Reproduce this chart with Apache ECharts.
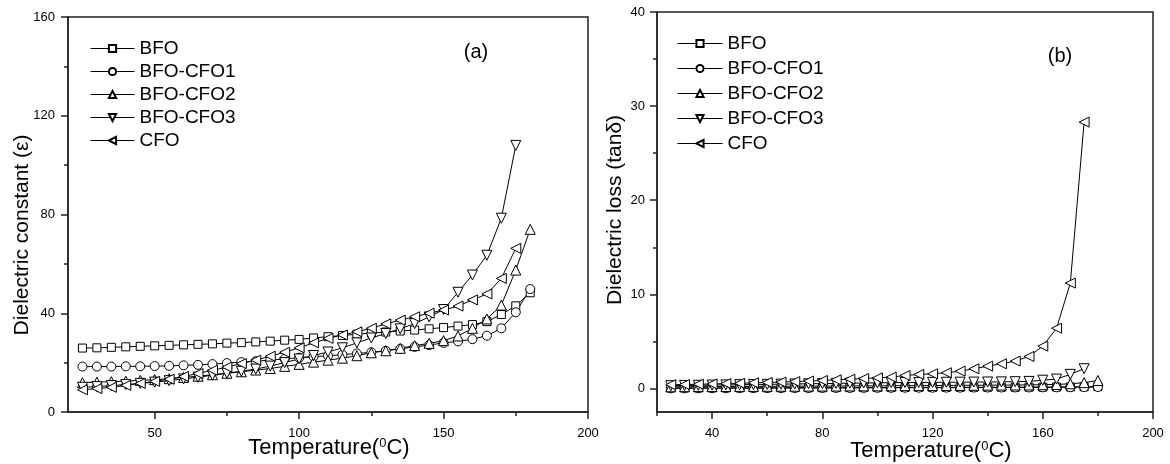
<!DOCTYPE html>
<html>
<head>
<meta charset="utf-8">
<script src="https://cdn.jsdelivr.net/npm/echarts@6/dist/echarts.min.js"></script>
<style>
  html, body { margin: 0; padding: 0; background: #fff; }
  #chart { width: 1170px; height: 464px; }
</style>
</head>
<body>
<div id="chart"></div>
<script>
// temperatures (°C), one point every 5 degrees
const temps = [25, 30, 35, 40, 45, 50, 55, 60, 65, 70, 75, 80, 85, 90, 95, 100,
  105, 110, 115, 120, 125, 130, 135, 140, 145, 150, 155, 160, 165, 170, 175, 180];

const seriesNames = ['BFO', 'BFO-CFO1', 'BFO-CFO2', 'BFO-CFO3', 'CFO'];

// (a) dielectric constant
const epsBFO = [25.9, 26.0, 26.2, 26.4, 26.6, 26.8, 27.0, 27.2, 27.4, 27.6, 27.9, 28.1, 28.4, 28.7, 29.1, 29.4,
  30.0, 30.5, 31.0, 31.5, 32.0, 32.4, 32.8, 33.2, 33.7, 34.2, 34.8, 35.4, 36.6, 39.5, 43.0, 48.3];
const epsCFO1 = [18.4, 18.4, 18.4, 18.5, 18.5, 18.6, 18.7, 18.9, 19.1, 19.4, 19.8, 20.2, 20.6, 21.0, 21.5, 22.0,
  22.4, 22.8, 23.2, 23.7, 24.2, 24.8, 25.6, 26.4, 27.1, 28.0, 28.6, 29.5, 30.9, 33.9, 40.4, 49.8];
const epsCFO2 = [11.9, 12.1, 12.3, 12.5, 12.8, 13.1, 13.5, 14.0, 14.5, 15.1, 15.7, 16.3, 17.0, 17.6, 18.5, 19.3,
  20.2, 21.0, 21.8, 22.8, 24.0, 24.8, 25.8, 26.9, 27.8, 28.9, 30.8, 33.9, 37.7, 43.3, 57.5, 74.0];
const epsCFO3 = [10.0, 10.3, 10.7, 11.1, 11.6, 12.1, 12.7, 13.4, 14.1, 14.9, 15.7, 16.5, 17.4, 18.6, 20.0, 21.5,
  22.9, 24.3, 26.0, 28.0, 30.0, 31.8, 33.7, 35.8, 38.5, 41.5, 48.5, 55.5, 63.5, 78.5, 108.0];
const epsCFO = [9.0, 9.5, 10.0, 10.8, 11.6, 12.4, 13.3, 14.4, 15.6, 16.9, 18.2, 19.6, 21.0, 22.6, 24.2, 26.0,
  28.0, 29.8, 31.2, 32.5, 33.9, 35.7, 37.2, 38.6, 40.0, 41.3, 42.9, 45.4, 47.8, 54.1, 66.3];

// (b) dielectric loss
const lossBFO = [0.05, 0.05, 0.05, 0.06, 0.06, 0.06, 0.07, 0.07, 0.07, 0.08, 0.08, 0.08, 0.09, 0.09, 0.09, 0.10,
  0.10, 0.10, 0.11, 0.11, 0.11, 0.12, 0.12, 0.12, 0.13, 0.13, 0.14, 0.14, 0.15, 0.16, 0.18, 0.20];
const lossCFO1 = [0.02, 0.02, 0.03, 0.03, 0.03, 0.04, 0.04, 0.04, 0.05, 0.05, 0.05, 0.06, 0.06, 0.06, 0.07, 0.07,
  0.07, 0.08, 0.08, 0.08, 0.09, 0.09, 0.10, 0.10, 0.10, 0.11, 0.11, 0.12, 0.12, 0.13, 0.14, 0.15];
const lossCFO2 = [0.18, 0.19, 0.20, 0.20, 0.21, 0.22, 0.22, 0.23, 0.24, 0.24, 0.25, 0.26, 0.26, 0.27, 0.28, 0.28,
  0.29, 0.30, 0.30, 0.31, 0.32, 0.33, 0.34, 0.35, 0.36, 0.37, 0.38, 0.40, 0.43, 0.50, 0.62, 0.85];
const lossCFO3 = [0.30, 0.32, 0.34, 0.36, 0.38, 0.40, 0.42, 0.44, 0.46, 0.48, 0.50, 0.52, 0.54, 0.56, 0.58, 0.60,
  0.62, 0.63, 0.64, 0.65, 0.66, 0.67, 0.68, 0.69, 0.70, 0.72, 0.75, 0.88, 1.00, 1.50, 2.10];
const lossCFO = [0.40, 0.42, 0.45, 0.48, 0.52, 0.55, 0.60, 0.64, 0.68, 0.73, 0.79, 0.85, 0.92, 0.99, 1.06, 1.13,
  1.21, 1.38, 1.49, 1.56, 1.67, 1.84, 2.09, 2.37, 2.62, 2.91, 3.40, 4.50, 6.40, 11.2, 28.3];

// axis tick / label positions
const xLabelsA = [50, 100, 150, 200];
const xMinorA = [75, 125, 175];
const yLabelsA = [0, 40, 80, 120, 160];
const yMinorA = [20, 60, 100, 140];
const xLabelsB = [40, 80, 120, 160, 200];
const xMinorB = [20, 60, 100, 140, 180];
const yLabelsB = [0, 10, 20, 30, 40];
const yMinorB = [5, 15, 25, 35];

const FONT = 'Arial, "Liberation Sans", sans-serif';
const AXIS_COLOR = '#222';

const symbols = [
  { symbol: 'rect', size: 8 },
  { symbol: 'circle', size: 9 },
  { symbol: 'triangle', size: 10 },
  { symbol: 'path://M0,0 L10,0 L5,9 Z', size: 10 },   // down triangle
  { symbol: 'path://M0,5 L9,0 L9,10 Z', size: 10 }    // left triangle
];

function pairs(vals) {
  return vals.map((v, i) => [temps[i], v]);
}

function makeSeries(idx, vals, axisIdx) {
  return {
    name: seriesNames[idx],
    type: 'line',
    xAxisIndex: axisIdx,
    yAxisIndex: axisIdx,
    data: pairs(vals),
    symbol: symbols[idx].symbol,
    symbolSize: symbols[idx].size,
    showAllSymbol: true,
    lineStyle: { color: '#000', width: 1 },
    itemStyle: { color: '#fff', borderColor: '#000', borderWidth: 1 },
    emphasis: { disabled: true },
    animation: false,
    z: 3
  };
}

// main axis: line, labels and long ticks
function mainAxis(grid, pos, min, max, labels, margin) {
  return {
    type: 'value',
    gridIndex: grid,
    position: pos,
    min: min,
    max: max,
    axisLine: { show: true, onZero: false, lineStyle: { color: AXIS_COLOR, width: 1.5 } },
    axisTick: { show: true, length: 7, customValues: labels, lineStyle: { color: AXIS_COLOR, width: 1.5 } },
    axisLabel: { customValues: labels, fontSize: 13, color: '#000', fontFamily: FONT, margin: margin },
    splitLine: { show: false }
  };
}

// overlay axis that only draws the short minor ticks
function minorAxis(grid, pos, min, max, ticks) {
  return {
    type: 'value',
    gridIndex: grid,
    position: pos,
    min: min,
    max: max,
    axisLine: { show: false, onZero: false },
    axisTick: { show: true, length: 4, customValues: ticks, lineStyle: { color: AXIS_COLOR, width: 1.5 } },
    axisLabel: { show: false },
    splitLine: { show: false }
  };
}

function legendFor(left, top, gap, width) {
  return {
    orient: 'vertical',
    left: left,
    top: top,
    padding: 0,
    itemWidth: width,
    itemHeight: 9,
    itemGap: gap,
    data: seriesNames,
    selectedMode: false,
    lineStyle: { width: 1, color: '#000' },
    textStyle: { fontSize: 19, color: '#000', fontFamily: FONT }
  };
}

// axis titles and panel labels as free text
function label(text, x, y, size, rotate) {
  return {
    type: 'text',
    x: x,
    y: y,
    rotation: rotate ? Math.PI / 2 : 0,
    style: {
      text: text,
      fill: '#000',
      font: size + 'px ' + FONT,
      align: 'center',
      verticalAlign: 'middle',
      textAlign: 'center',
      textVerticalAlign: 'middle',
      rich: { sup: { font: '13px ' + FONT, fill: '#000', verticalAlign: 'top', padding: [0, 0, 8, 0] } }
    }
  };
}

const chart = echarts.init(document.getElementById('chart'), null, { renderer: 'canvas' });

const option = {
  backgroundColor: '#fff',
  animation: false,
  textStyle: { fontFamily: FONT },
  grid: [
    { left: 68, top: 17, width: 520, height: 395, show: true, borderColor: AXIS_COLOR, borderWidth: 1.5 },
    { left: 657, top: 12, width: 496, height: 400, show: true, borderColor: AXIS_COLOR, borderWidth: 1.5 }
  ],
  xAxis: [
    mainAxis(0, 'bottom', 20, 200, xLabelsA, 15),
    mainAxis(1, 'bottom', 20, 200, xLabelsB, 15),
    minorAxis(0, 'bottom', 20, 200, xMinorA),
    minorAxis(1, 'bottom', 20, 200, xMinorB)
  ],
  yAxis: [
    mainAxis(0, 'left', 0, 160, yLabelsA, 13),
    mainAxis(1, 'left', -2.5, 40, yLabelsB, 12),
    minorAxis(0, 'left', 0, 160, yMinorA),
    minorAxis(1, 'left', -2.5, 40, yMinorB)
  ],
  legend: [
    legendFor(90, 39, 4, 44),
    legendFor(677, 34, 6, 45)
  ],
  graphic: [
    label('Temperature({sup|0}C)', 329, 448, 22, false),
    label('Temperature({sup|0}C)', 931, 451, 22, false),
    label('Dielectric constant (\u03b5)', 22, 235, 21, true),
    label('Dielectric loss (tan\u03b4)', 615, 210, 21, true),
    label('(a)', 476, 52, 20, false),
    label('(b)', 1060, 56, 20, false)
  ],
  series: [
    makeSeries(0, epsBFO, 0),
    makeSeries(1, epsCFO1, 0),
    makeSeries(2, epsCFO2, 0),
    makeSeries(3, epsCFO3, 0),
    makeSeries(4, epsCFO, 0),
    makeSeries(0, lossBFO, 1),
    makeSeries(1, lossCFO1, 1),
    makeSeries(2, lossCFO2, 1),
    makeSeries(3, lossCFO3, 1),
    makeSeries(4, lossCFO, 1)
  ]
};

chart.setOption(option);
</script>
</body>
</html>
